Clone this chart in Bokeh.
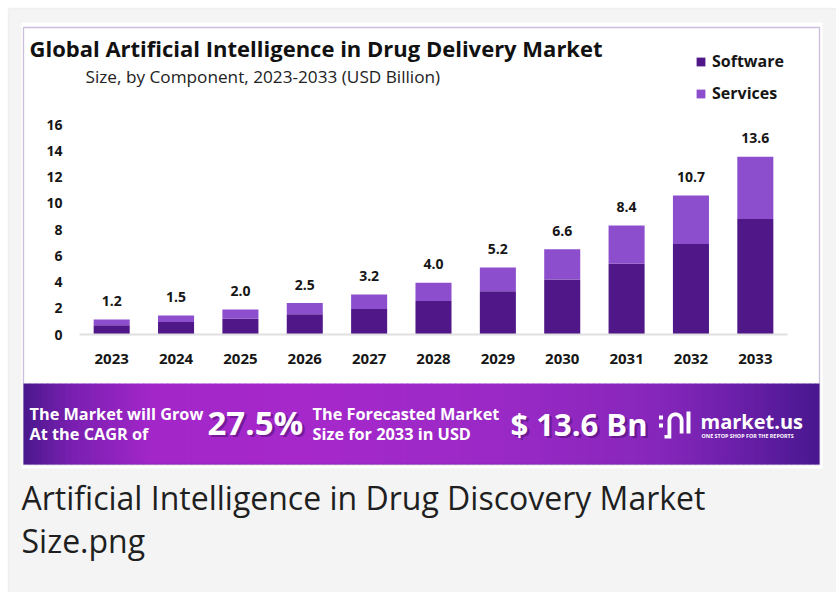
from bokeh.plotting import figure
from bokeh.models import (Range1d, Label, LabelSet, BoxAnnotation,
                          ColumnDataSource, Legend, LegendItem)
from bokeh.embed import file_html
from bokeh.resources import INLINE
from bokeh.core.properties import value
import math

# ---------------- data ----------------
years = ["2023", "2024", "2025", "2026", "2027", "2028", "2029", "2030", "2031", "2032", "2033"]
software = [0.70, 0.95, 1.20, 1.55, 1.95, 2.55, 3.30, 4.20, 5.40, 6.90, 8.80]
services = [0.45, 0.50, 0.70, 0.85, 1.10, 1.40, 1.80, 2.30, 2.90, 3.70, 4.75]
value_labels = ["1.2", "1.5", "2.0", "2.5", "3.2", "4.0", "5.2", "6.6", "8.4", "10.7", "13.6"]
y_ticks = [0, 2, 4, 6, 8, 10, 12, 14, 16]
series_names = ["Software", "Services"]
series_colors = ["#4f1787", "#8d4ecd"]

title_text = "Global Artificial Intelligence in Drug Delivery Market"
subtitle_text = "Size, by Component, 2023-2033 (USD Billion)"
cagr_value = "27.5%"
forecast_value = "$ 13.6 Bn"
caption_lines = ["Artificial Intelligence in Drug Discovery Market", "Size.png"]

# ---------------- layout (page pixels) ----------------
W, H = 836, 592
PL, PR = 79.0, 787.0        # plot area left/right
P0, P16 = 334.0, 124.0      # pixel rows of value 0 and value 16
FONT = "Open Sans"
INK = "#161616"

pos = list(range(len(years)))           # slot of each year category
slot = (PR - PL) / len(years)
upp = (P0 - P16) / 16.0                 # pixels per unit

x_range = Range1d((0 - PL) / slot - 0.5, (W - PL) / slot - 0.5)
y_range = Range1d((P0 - H) / upp, P0 / upp)

p = figure(width=W, height=H, x_range=x_range, y_range=y_range,
           output_backend="svg", toolbar_location=None, title=None,
           x_axis_location=None, y_axis_location=None,
           min_border=0, min_border_left=0, min_border_right=0,
           min_border_top=0, min_border_bottom=0)
p.border_fill_color = "white"
p.background_fill_color = "white"
p.outline_line_color = None
p.grid.visible = False

# page-pixel coordinate system for decorations
p.extra_x_ranges = {"px": Range1d(0, W)}
p.extra_y_ranges = {"py": Range1d(H, 0)}


def box(l, t, r, b, fill=None, line=None, lw=1, level="underlay"):
    return BoxAnnotation(left=l, right=r, top=t, bottom=b, x_range_name="px", y_range_name="py",
                         fill_color=fill, fill_alpha=1 if fill else 0,
                         line_color=line, line_width=lw, level=level)


def lab(x, y, text, size, color=INK, bold=False, font=FONT, align="left",
        baseline="middle", alpha=1.0, level="annotation"):
    return Label(x=x, y=y, text=text, x_range_name="px", y_range_name="py",
                 text_font=font, text_font_size=f"{size}px",
                 text_font_style="bold" if bold else "normal", text_color=color,
                 text_alpha=alpha, text_align=align, text_baseline=baseline, level=level)


# outer grey panel and white picture area
p.add_layout(box(8, 8, W + 20, H + 20, fill="#f4f4f4", line="#dcdcdc", lw=1.5, level="image"))
p.add_layout(box(21, 22, 822, 468, fill="white", level="image"))

# banner gradient
stops = [(23, (0x4a, 0x17, 0x8c)), (70, (0x78, 0x1f, 0xb0)), (150, (0xa2, 0x26, 0xc8)),
         (300, (0xa6, 0x28, 0xcb)), (500, (0x9a, 0x29, 0xc5)), (660, (0x86, 0x26, 0xba)),
         (750, (0x66, 0x1e, 0xa6)), (819, (0x48, 0x17, 0x8e))]


def grad(x):
    for (x0, c0), (x1, c1) in zip(stops[:-1], stops[1:]):
        if x0 <= x <= x1:
            t = (x - x0) / (x1 - x0)
            return "#%02x%02x%02x" % tuple(int(round(a + (b - a) * t)) for a, b in zip(c0, c1))
    return "#%02x%02x%02x" % stops[-1][1]


step = 6
x = 23
while x < 819:
    x2 = min(x + step, 819)
    p.add_layout(box(x, 383, x2 + 0.6 if x2 < 819 else x2, 464, fill=grad((x + x2) / 2)))
    x = x2

# purple frame line of the picture
p.add_layout(box(23, 27, 819, 464, fill=None, line="#4e2a84", lw=1.3, level="underlay"))

# ---------------- bars ----------------
src = ColumnDataSource(dict(pos=pos, years=years, Software=software, Services=services))
rs = p.vbar_stack(series_names, x="pos", width=0.56, color=series_colors, source=src,
                  line_width=0)

# baseline (x axis line)
p.segment(x0=[-0.5], y0=[0], x1=[len(years) - 0.5], y1=[0], line_color="#e0e0e0", line_width=2)

tops = [a + b for a, b in zip(software, services)]
lsrc = ColumnDataSource(dict(x=pos, y=tops, t=value_labels))
p.add_layout(LabelSet(x="x", y="y", text="t", source=lsrc, text_align="center",
                      text_baseline="middle", y_offset=18.5, text_font=value(FONT),
                      text_font_style="bold", text_font_size="14px", text_color=INK))

# axis tick labels
ysrc = ColumnDataSource(dict(x=[62] * len(y_ticks), y=y_ticks, t=[str(v) for v in y_ticks]))
p.text(x="x", y="y", text="t", source=ysrc, x_range_name="px", text_align="right",
       text_baseline="middle", text_font=value(FONT), text_font_style="bold",
       text_font_size="14px", text_color=INK)
xsrc = ColumnDataSource(dict(x=pos, y=[358.5] * len(years), t=years))
p.text(x="x", y="y", text="t", source=xsrc, y_range_name="py", text_align="center",
       text_baseline="middle", text_font=value(FONT), text_font_style="bold",
       text_font_size="15px", text_color=INK)

# ---------------- legend ----------------
legend = Legend(items=[LegendItem(label=n, renderers=[r]) for n, r in zip(series_names, rs)],
                location=(695, H - 104), orientation="vertical", glyph_width=11, glyph_height=11,
                label_height=20, spacing=10, padding=0, margin=0, label_standoff=6,
                border_line_color=None, background_fill_alpha=0,
                label_text_font=FONT, label_text_font_style="bold",
                label_text_font_size="16px", label_text_color=INK)
p.add_layout(legend, "center")

# ---------------- titles ----------------
p.add_layout(lab(29, 47.5, title_text, 22, color="#111111", bold=True))
p.add_layout(lab(85, 75.5, subtitle_text, 17.2, color="#222222"))

# ---------------- banner texts ----------------
p.add_layout(lab(29, 413.5, "The Market will Grow", 16.3, color="white", bold=True))
p.add_layout(lab(29, 433, "At the CAGR of", 16.3, color="white", bold=True))
p.add_layout(lab(209.5, 424, cagr_value, 33, color="#3a0a5c", bold=True, alpha=0.45))
p.add_layout(lab(207, 422, cagr_value, 33, color="white", bold=True))
p.add_layout(lab(312, 413.5, "The Forecasted Market", 16.3, color="white", bold=True))
p.add_layout(lab(312, 433, "Size for 2033 in USD", 16.3, color="white", bold=True))
p.add_layout(lab(512.5, 425, forecast_value, 31, color="#3a0a5c", bold=True, alpha=0.45))
p.add_layout(lab(510, 423, forecast_value, 31, color="white", bold=True))
p.add_layout(lab(700, 421, "market.us", 20, color="white", bold=True))
p.add_layout(lab(701, 435.5, "ONE STOP SHOP FOR THE REPORTS", 5.4, color="white", bold=True))

# logo icon (decorative shapes in page pixels)
cx, cy, R, r = 675.0, 420.0, 8.0, 4.2
arch_x, arch_y = [], []
for k in range(0, 19):
    a = math.pi - math.pi * k / 18
    arch_x.append(cx + R * math.cos(a)); arch_y.append(cy - R * math.sin(a))
arch_x += [cx + R, cx + r]; arch_y += [433, 433]
for k in range(0, 19):
    a = math.pi * k / 18
    arch_x.append(cx + r * math.cos(a)); arch_y.append(cy - r * math.sin(a))
arch_x += [cx - r, cx - R - 3, cx - R - 3, cx - R]; arch_y += [438, 438, 434.5, 434.5]
icon_xs = [arch_x, [686, 690, 690, 686], [658.5, 662.5, 662.5, 658.5], [658.5, 662.5, 662.5, 658.5]]
icon_ys = [arch_y, [411, 411, 433, 433], [415, 415, 419, 419], [423, 423, 427, 427]]
p.patches(xs=icon_xs, ys=icon_ys, x_range_name="px", y_range_name="py",
          fill_color="white", line_color=None)

# ---------------- caption ----------------
p.add_layout(lab(21, 496.5, caption_lines[0], 32, color="#1f1f1f", font="Open Sans"))
p.add_layout(lab(21, 540, caption_lines[1], 32, color="#1f1f1f", font="Open Sans"))

open("out.html", "w").write(file_html(p, INLINE))
